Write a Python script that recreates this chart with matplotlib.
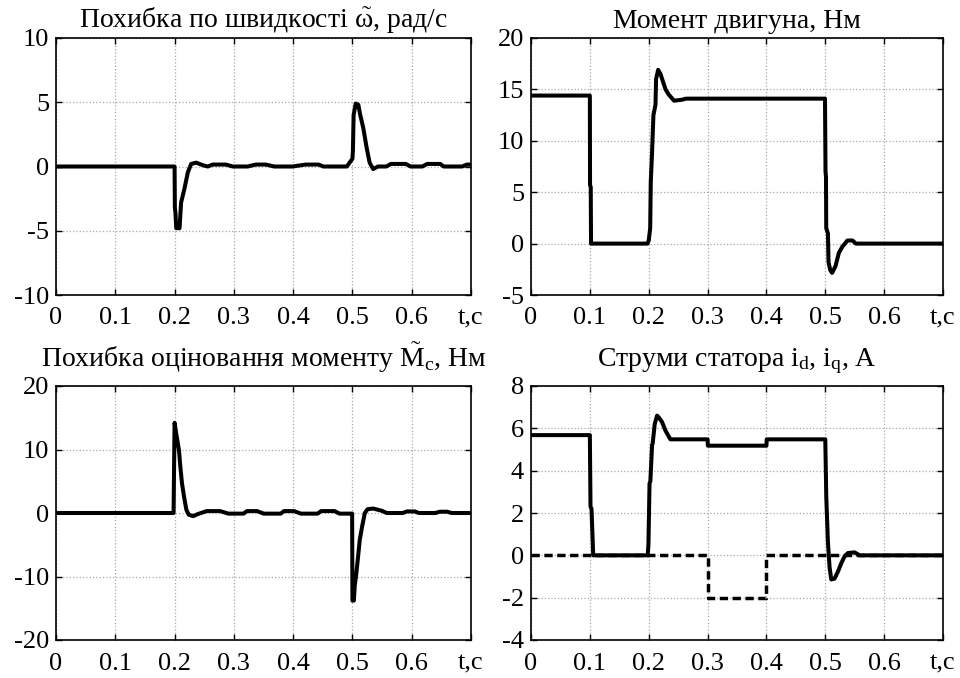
import matplotlib
matplotlib.use("Agg")
import matplotlib.pyplot as plt

plt.rcParams['font.family'] = ['Liberation Serif', 'DejaVu Serif']
plt.rcParams['mathtext.fontset'] = 'custom'
plt.rcParams['mathtext.rm'] = 'Liberation Serif'
plt.rcParams['mathtext.it'] = 'Liberation Serif:italic'
plt.rcParams['axes.unicode_minus'] = False

# ---- data ----------------------------------------------------------
# speed error, rad/s
t_speed_err = [0, 0.2, 0.2005, 0.2015, 0.2028, 0.2084, 0.211, 0.2168, 0.2224,
               0.228, 0.2364, 0.2476, 0.256, 0.2644, 0.2868, 0.298, 0.3232,
               0.337, 0.354, 0.368, 0.399, 0.421, 0.443, 0.451, 0.4905, 0.5,
               0.5008, 0.502, 0.5055, 0.51, 0.5127, 0.5183, 0.5238, 0.529,
               0.535, 0.543, 0.557, 0.565, 0.59, 0.598, 0.618, 0.626, 0.648,
               0.654, 0.685, 0.693, 0.7]
speed_err = [0, 0, -3.2, -3.6, -4.8, -4.8, -2.8, -1.7, -0.45,
             0.2, 0.3, 0.1, 0.0, 0.15, 0.15, 0.0, 0.0,
             0.15, 0.15, 0.0, 0.0, 0.15, 0.15, 0.0, 0.0, 0.6,
             1.2, 4.0, 4.9, 4.8, 4.1, 3.0, 1.5, 0.3,
             -0.2, 0.0, 0.0, 0.2, 0.2, 0.0, 0.0, 0.2, 0.2,
             0.0, 0.0, 0.15, 0.15]

# motor torque, N*m
t_torque = [0, 0.1, 0.1003, 0.1015, 0.102, 0.198, 0.2, 0.2025, 0.2035, 0.2055,
            0.208, 0.2115, 0.2125, 0.216, 0.22, 0.2286, 0.234, 0.243, 0.257,
            0.263, 0.4995, 0.5004, 0.5012, 0.5016, 0.5045, 0.5055, 0.5085,
            0.5116, 0.5173, 0.5231, 0.529, 0.5376, 0.5463, 0.552, 0.7]
torque = [14.4, 14.4, 5.7, 5.5, 0, 0, 0.3, 1.5, 6.0, 8.6,
          12.5, 13.5, 16.0, 16.9, 16.5, 15.0, 14.5, 13.9, 14.0,
          14.1, 14.1, 7.0, 6.5, 1.5, 1.0, -1.8, -2.6,
          -2.85, -2.2, -0.9, -0.3, 0.3, 0.3, 0.0, 0.0]

# load torque estimation error, N*m
t_load_err = [0, 0.1983, 0.2, 0.2028, 0.2074, 0.2097, 0.2125, 0.2159, 0.2199,
              0.2239, 0.2312, 0.2398, 0.254, 0.2767, 0.2909, 0.3164, 0.3221,
              0.3392, 0.3505, 0.3789, 0.3846, 0.4016, 0.413, 0.4414, 0.4471,
              0.4698, 0.4783, 0.4995, 0.5, 0.5024, 0.5039, 0.5067, 0.5096,
              0.5124, 0.5164, 0.5209, 0.5255, 0.535, 0.5493, 0.5578, 0.585,
              0.592, 0.605, 0.612, 0.64, 0.647, 0.66, 0.667, 0.7]
load_err = [0, 0, 14.2, 12.5, 9.9, 7.3, 4.7, 2.6, 0.5,
            -0.26, -0.5, -0.15, 0.3, 0.3, -0.1, -0.1, 0.3,
            0.3, -0.1, -0.1, 0.3, 0.3, -0.1, -0.1, 0.3,
            0.3, -0.1, -0.1, -13.8, -13.8, -11.5, -9.4, -6.8,
            -4.2, -2.1, 0.0, 0.6, 0.7, 0.36, 0.0, 0.0,
            0.25, 0.25, 0.0, 0.0, 0.2, 0.2, 0.0, 0.0]

# stator currents, A
t_iq = [0, 0.1, 0.1011, 0.1028, 0.1057, 0.1983, 0.1995, 0.2014, 0.2028,
        0.2057, 0.2068, 0.2102, 0.2142, 0.2175, 0.2226, 0.2283, 0.2368, 0.3,
        0.3005, 0.4, 0.4005, 0.5, 0.5017, 0.5045, 0.5074, 0.5102, 0.5158,
        0.5215, 0.5272, 0.5328, 0.5385, 0.5498, 0.5583, 0.7]
i_q = [5.68, 5.68, 2.3, 2.2, 0, 0, 0.5, 3.4, 3.5,
       5.2, 5.3, 6.2, 6.6, 6.5, 6.3, 5.9, 5.48, 5.48,
       5.18, 5.18, 5.48, 5.48, 2.75, 0.6, -0.6, -1.14, -1.1,
       -0.77, -0.37, -0.05, 0.11, 0.14, 0.0, 0.0]
t_id = [0, 0.3, 0.3, 0.4, 0.4, 0.7]
i_d = [0, 0, -2, -2, 0, 0]

x_ticks = [0, 0.1, 0.2, 0.3, 0.4, 0.5, 0.6, 0.7]
x_ticklabels = ['0', '0.1', '0.2', '0.3', '0.4', '0.5', '0.6', 't,c']

titles = ['Похибка по швидкості $\\tilde{\\mathrm{\\omega}}$, рад/с',
          'Момент двигуна, Нм',
          'Похибка оціновання моменту $\\tilde{\\mathrm{M}}_{\\mathrm{c}}$, Нм',
          'Струми статора $\\mathrm{i}_{\\mathrm{d}}$, $\\mathrm{i}_{\\mathrm{q}}$, А']
y_ticks = [[-10, -5, 0, 5, 10],
           [-5, 0, 5, 10, 15, 20],
           [-20, -10, 0, 10, 20],
           [-4, -2, 0, 2, 4, 6, 8]]

# ---- figure --------------------------------------------------------
W, H = 960, 678
fig = plt.figure(figsize=(W / 100, H / 100), dpi=100)

boxes = [(56, 471, 38, 295), (531, 943, 38, 295),
         (56, 471, 386, 640), (531, 943, 386, 640)]
axes = []
for (l, r, t, b) in boxes:
    axes.append(fig.add_axes([l / W, 1 - b / H, (r - l) / W, (b - t) / H]))

FS = 19
TFS = 20
LW = 2.9
for i, ax in enumerate(axes):
    ax.set_xlim(0, 0.7)
    ax.set_ylim(y_ticks[i][0], y_ticks[i][-1])
    ax.set_xticks(x_ticks)
    ax.set_xticklabels(x_ticklabels)
    ax.set_yticks(y_ticks[i])
    ax.set_yticklabels([str(v) for v in y_ticks[i]])
    ax.tick_params(direction='in', length=4, width=1.0, top=True, right=True,
                   labelsize=FS, pad=5)
    ax.tick_params(axis='x', pad=9)
    ax.grid(True, linestyle=':', color='#a8a8a8', linewidth=0.9)
    for s in ax.spines.values():
        s.set_linewidth(1.2)
    pad = 7 if i < 2 else 14
    ax.set_title(titles[i], fontsize=TFS, pad=pad)

axes[0].plot(t_speed_err, speed_err, color='black', lw=LW)
axes[1].plot(t_torque, torque, color='black', lw=LW)
axes[2].plot(t_load_err, load_err, color='black', lw=LW)
axes[3].plot(t_id, i_d, color='black', lw=2.5, dashes=(2.4, 1.3))
axes[3].plot(t_iq, i_q, color='black', lw=LW)

fig.savefig('out.png', dpi=100)
